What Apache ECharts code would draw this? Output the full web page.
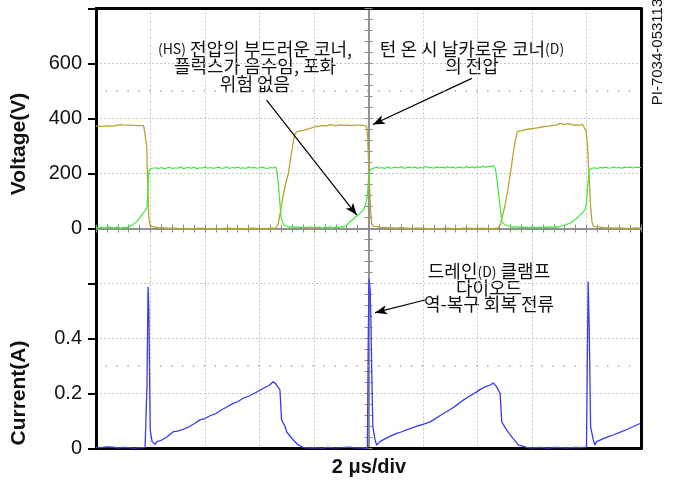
<!DOCTYPE html>
<html>
<head>
<meta charset="utf-8">
<script src="https://cdn.jsdelivr.net/npm/echarts@6/dist/echarts.min.js"></script>
<style>
  html, body { margin: 0; padding: 0; background: #fff; }
  #chart { width: 675px; height: 480px; }
</style>
</head>
<body>
<div id="chart"></div>
<script>
// Oscilloscope capture: 2 us/div, 10 divisions. Time in us.
const timeRange = [0, 20];
const voltRange = [0, 800];
const currRange = [0, 0.8];
const voltLabels = ['0', '200', '400', '600'];
const currLabels = ['0', '0.2', '0.4'];

// Drain voltage (V) — olive trace
const drainVolt = [
  [0,372],[0.2,371],[0.4,373],[0.6,372],[0.8,376],[0.9,378],[1.0,377],[1.2,376],[1.4,375],[1.6,374],
  [1.75,374],[1.8,368],[1.86,300],[1.9,150],[1.94,40],[1.98,12],[2.1,6],[2.3,3],[2.5,2],[2.7,0],
  [2.9,1],[3.1,-1],[3.3,0],[3.5,-2],[3.7,0],[3.9,1],[4.1,-1],[4.3,0],[4.5,-2],[4.7,0],[4.9,1],
  [5.1,-1],[5.3,0],[5.5,-1],[5.7,1],[5.9,0],[6.1,-1],[6.3,0],[6.5,1],[6.6,1],
  [6.68,15],[6.75,50],[6.85,110],[6.95,160],[7.06,200],[7.15,260],[7.25,320],[7.3,345],[7.38,352],
  [7.5,355],[7.65,358],[7.8,362],[8.04,370],[8.2,372],[8.3,374],[8.45,373],[8.59,378],[8.7,376],
  [8.8,374],[9.0,377],[9.1,375],[9.2,376],[9.4,374],[9.5,376],[9.57,378],[9.7,376],[9.8,375],
  [9.93,372],[9.97,330],[10.0,250],[10.04,150],[10.08,60],[10.12,15],[10.2,8],[10.4,5],[10.7,3],
  [10.9,2],[11.0,1],[11.2,3],[11.5,0],[11.8,1],[12,1],[12.2,-1],[12.5,-1],[12.8,1],[13,0],[13.2,-1],
  [13.5,1],[13.8,0],[14,0],[14.2,1],[14.5,-1],[14.75,1],[14.85,15],[14.9,40],[15.0,80],
  [15.13,150],[15.25,230],[15.35,300],[15.44,345],[15.5,354],[15.65,357],[15.8,360],[16.05,364],
  [16.2,366],[16.4,370],[16.6,372],[16.78,375],[16.9,376],[17.03,382],[17.1,379],[17.2,378],
  [17.3,381],[17.4,380],[17.5,376],[17.6,377],[17.76,376],[17.85,379],[17.9,372],[17.98,355],
  [18.04,300],[18.1,180],[18.15,80],[18.2,25],[18.25,8],[18.4,6],[18.5,5],[18.7,2],[18.8,3],
  [19.0,1],[19.2,2],[19.4,0],[19.6,0],[19.8,2],[20,1]
];

// Clamp node voltage (V) — green trace
const clampVolt = [
  [0,4],[0.1,2],[0.2,5],[0.3,1],[0.4,4],[0.5,6],[0.6,2],[0.7,3],[0.8,5],[0.9,1],[1.0,4],[1.1,3],
  [1.2,6],[1.3,10],[1.4,17],[1.5,26],[1.6,38],[1.7,52],[1.8,65],[1.87,75],[1.9,140],[1.94,206],
  [1.98,215],[2.06,219],[2.1,216],[2.2,221],[2.3,218],[2.4,222],[2.5,217],[2.6,220],[2.7,223],
  [2.8,218],[2.9,221],[3.0,219],[3.1,224],[3.2,218],[3.3,220],[3.4,222],[3.5,219],[3.6,223],
  [3.7,217],[3.8,221],[3.9,220],[4.0,224],[4.1,219],[4.2,222],[4.3,218],[4.4,221],[4.5,223],
  [4.6,219],[4.7,220],[4.8,225],[4.9,218],[5.0,222],[5.1,220],[5.2,223],[5.3,219],[5.4,221],
  [5.5,218],[5.6,224],[5.7,220],[5.8,222],[5.9,219],[6.0,221],[6.1,223],[6.2,220],[6.3,218],
  [6.4,222],[6.5,220],[6.6,223],[6.65,200],[6.7,152],[6.75,90],[6.8,35],[6.9,12],[7.0,8],[7.1,5],
  [7.2,7],[7.3,3],[7.4,6],[7.5,4],[7.6,2],[7.7,5],[7.8,3],[7.9,6],[8.0,2],[8.1,4],[8.2,5],[8.3,1],
  [8.4,4],[8.5,3],[8.6,6],[8.7,2],[8.8,5],[8.9,4],[9.0,7],[9.1,6],[9.2,12],[9.32,25],[9.4,30],
  [9.5,40],[9.6,47],[9.69,56],[9.8,66],[9.87,79],[9.96,116],[10.0,180],[10.03,205],[10.08,215],
  [10.2,220],[10.3,223],[10.4,219],[10.5,222],[10.6,218],[10.7,224],[10.8,219],[10.9,221],
  [11.0,223],[11.1,220],[11.2,225],[11.3,219],[11.4,221],[11.5,223],[11.6,220],[11.7,224],
  [11.8,219],[11.9,222],[12.0,220],[12.1,226],[12.2,221],[12.3,222],[12.4,219],[12.5,224],
  [12.6,221],[12.7,223],[12.8,220],[12.9,225],[13.0,221],[13.1,223],[13.2,219],[13.3,224],
  [13.4,222],[13.5,220],[13.6,225],[13.7,221],[13.8,223],[13.9,220],[14.0,224],[14.1,222],
  [14.2,226],[14.3,223],[14.4,225],[14.5,227],[14.6,228],[14.66,215],[14.7,188],[14.8,104],
  [14.89,25],[15.01,13],[15.1,10],[15.2,8],[15.3,5],[15.4,7],[15.5,4],[15.6,6],[15.7,3],[15.8,5],
  [15.9,2],[16.0,6],[16.1,4],[16.2,3],[16.3,6],[16.4,2],[16.5,5],[16.6,4],[16.7,6],[16.8,3],
  [16.9,7],[17.0,6],[17.1,9],[17.2,12],[17.3,16],[17.39,19],[17.5,26],[17.55,30],[17.7,43],
  [17.85,57],[17.94,67],[18.0,90],[18.04,152],[18.1,213],[18.19,219],[18.3,221],[18.4,218],
  [18.5,222],[18.6,220],[18.7,223],[18.8,219],[18.9,221],[19.0,224],[19.1,220],[19.2,222],
  [19.3,219],[19.4,223],[19.5,221],[19.6,224],[19.7,220],[19.8,222],[19.9,223],[20.0,221]
];

// Clamp diode current (A) — blue trace
const diodeCurr = [
  [0,0.004],[0.2,0.003],[0.4,0.006],[0.6,0.005],[0.8,0.002],[1.0,0.004],[1.2,0.003],[1.4,0.001],
  [1.6,0.003],[1.8,0.003],[1.85,0.005],[1.87,0.225],[1.91,0.588],[1.94,0.504],[1.96,0.32],
  [1.99,0.067],[2.06,0.025],[2.17,0.015],[2.23,0.025],[2.4,0.03],[2.6,0.042],[2.84,0.061],
  [3.0,0.063],[3.2,0.07],[3.4,0.078],[3.6,0.09],[3.82,0.104],[4.0,0.109],[4.2,0.12],[4.4,0.127],
  [4.6,0.14],[4.8,0.151],[5.03,0.164],[5.2,0.17],[5.4,0.183],[5.6,0.19],[5.8,0.2],[6.0,0.211],
  [6.2,0.222],[6.35,0.229],[6.5,0.243],[6.6,0.235],[6.75,0.213],[6.81,0.104],[6.94,0.08],
  [7.0,0.06],[7.24,0.031],[7.42,0.013],[7.6,0.004],[7.8,0.002],[8.0,0.003],[8.3,0.001],[8.5,0.004],
  [8.8,0.002],[9.0,0.003],[9.3,0.005],[9.5,0.002],[9.8,0.003],[9.96,0.0],[9.99,0.393],[10.02,0.617],
  [10.06,0.575],[10.09,0.455],[10.12,0.273],[10.16,0.079],[10.24,0.031],[10.3,0.013],[10.42,0.025],
  [10.6,0.035],[10.8,0.045],[11.03,0.055],[11.2,0.06],[11.4,0.068],[11.6,0.075],[11.8,0.082],
  [12.0,0.088],[12.26,0.097],[12.4,0.105],[12.6,0.118],[12.8,0.13],[13.0,0.142],[13.2,0.155],
  [13.48,0.176],[13.7,0.19],[13.97,0.206],[14.1,0.215],[14.3,0.225],[14.45,0.23],[14.58,0.238],
  [14.7,0.225],[14.83,0.2],[14.89,0.097],[15.07,0.067],[15.31,0.036],[15.5,0.013],[15.8,0.004],
  [16.0,0.002],[16.3,0.004],[16.6,0.001],[16.8,0.004],[17.1,0.003],[17.3,0.002],[17.6,0.004],
  [17.8,0.003],[18.0,0.005],[18.06,0.607],[18.1,0.437],[18.15,0.079],[18.25,0.031],[18.31,0.013],
  [18.37,0.025],[18.6,0.035],[18.8,0.043],[19.0,0.05],[19.2,0.058],[19.5,0.07],[19.7,0.079],[19.96,0.091]
];

// Reference levels drawn as sparse dotted lines
const voltRef = 500;
const currRef = 0.3;

// Annotation arrows: [tail, head] in data units
const arrowSoftCorner = [[6.26, 467], [9.57, 49]];
const arrowSharpCorner = [[13.79, 546], [10.16, 378]];
const arrowRecovery = [[12.07, 0.54], [10.24, 0.494]];

const FONT = '"Liberation Sans", Arial, Helvetica, sans-serif';
const KFONT = '"Noto Sans CJK KR", "Noto Sans", sans-serif';
const GRID_GRAY = '#c6c6c6';
const CENTER_GRAY = '#8c8c8c';
const FRAME = '#000';

const chart = echarts.init(document.getElementById('chart'), null, { renderer: 'canvas' });

const gridLine = { show: true, lineStyle: { color: GRID_GRAY, width: 1, type: [2, 2] } };
const blackLine = { show: true, onZero: false, lineStyle: { color: FRAME, width: 3 } };
const grayLine = { show: true, onZero: false, lineStyle: { color: CENTER_GRAY, width: 1.5 } };
const smallTick = { show: true, length: 4, lineStyle: { color: CENTER_GRAY, width: 1 } };

function xAxisBase(gridIndex, position) {
  return {
    type: 'value', gridIndex, position, min: timeRange[0], max: timeRange[1], interval: 2,
    axisLabel: { show: false }, axisTick: { show: false }, splitLine: { show: false },
    axisLine: blackLine
  };
}
function centerY(gridIndex, position, range, step) {
  return {
    type: 'value', gridIndex, position, offset: -272.5, min: range[0], max: range[1], interval: step,
    axisLine: grayLine, axisTick: smallTick, axisLabel: { show: false }, splitLine: { show: false }
  };
}

const arrowStyle = { color: '#000', width: 1.2, type: 'solid' };
function arrowItem(a) {
  return [
    { coord: a[0], symbol: 'none', lineStyle: arrowStyle },
    { coord: a[1], symbol: 'arrow', symbolSize: [7, 12] }
  ];
}
function refItem(v) {
  return [
    { coord: [0.35, v], symbol: 'none', lineStyle: { color: '#a8a8a8', width: 1.5, type: [1.5, 9.4] } },
    { coord: [19.6, v], symbol: 'none' }
  ];
}

const minorTicks = { show: true, splitNumber: 5, length: 4, lineStyle: { color: CENTER_GRAY, width: 1 } };
const kText = (text, x, y, lh) => ({
  type: 'text', x, y,
  style: {
    text, font: '18px ' + KFONT, fill: '#111', textAlign: 'center', textVerticalAlign: 'top', lineHeight: lh,
    rich: { s: { font: '14px ' + KFONT, fill: '#111' } }
  }
});

const option = {
  animation: false,
  backgroundColor: '#fff',
  grid: [
    { left: 96, top: 8.5, width: 545, height: 220, outerBoundsMode: 'none' },
    { left: 96, top: 228.5, width: 545, height: 220, outerBoundsMode: 'none' }
  ],
  xAxis: [
    Object.assign(xAxisBase(0, 'bottom'), {
      axisLine: grayLine, axisTick: smallTick, minorTick: minorTicks, splitLine: gridLine
    }),
    xAxisBase(0, 'top'),
    Object.assign(xAxisBase(1, 'bottom'), { splitLine: gridLine }),
    Object.assign(xAxisBase(1, 'top'), {
      axisLine: grayLine, axisTick: smallTick, minorTick: minorTicks
    })
  ],
  yAxis: [
    {
      type: 'value', gridIndex: 0, position: 'left', min: voltRange[0], max: voltRange[1], interval: 200,
      axisLine: blackLine,
      axisTick: { show: true, length: 8, lineStyle: { color: FRAME, width: 2 } },
      axisLabel: {
        margin: 14, color: '#111', fontFamily: FONT, fontSize: 20,
        formatter: v => (voltLabels.indexOf(String(v)) >= 0 ? String(v) : '')
      },
      splitLine: gridLine
    },
    { type: 'value', gridIndex: 0, position: 'right', min: voltRange[0], max: voltRange[1],
      axisLine: blackLine, axisTick: { show: false }, axisLabel: { show: false }, splitLine: { show: false } },
    centerY(0, 'left', voltRange, 40),
    centerY(0, 'right', voltRange, 40),
    {
      type: 'value', gridIndex: 1, position: 'left', min: currRange[0], max: currRange[1], interval: 0.2,
      axisLine: blackLine,
      axisTick: { show: true, length: 8, lineStyle: { color: FRAME, width: 2 } },
      axisLabel: {
        margin: 14, color: '#111', fontFamily: FONT, fontSize: 20,
        formatter: v => {
          const s = String(Math.round(v * 10) / 10);
          return currLabels.indexOf(s) >= 0 ? s : '';
        }
      },
      splitLine: gridLine
    },
    { type: 'value', gridIndex: 1, position: 'right', min: currRange[0], max: currRange[1],
      axisLine: blackLine, axisTick: { show: false }, axisLabel: { show: false }, splitLine: { show: false } },
    centerY(1, 'left', currRange, 0.04),
    centerY(1, 'right', currRange, 0.04)
  ],
  series: [
    {
      name: 'Drain', type: 'line', xAxisIndex: 0, yAxisIndex: 0, data: drainVolt,
      showSymbol: false, clip: false, lineStyle: { color: '#b5a531', width: 1.3 }, z: 3,
      markLine: {
        silent: true, animation: false, label: { show: false },
        data: [arrowItem(arrowSoftCorner), arrowItem(arrowSharpCorner), refItem(voltRef)]
      }
    },
    {
      name: 'Clamp', type: 'line', xAxisIndex: 0, yAxisIndex: 0, data: clampVolt,
      showSymbol: false, clip: false, lineStyle: { color: '#3ee83a', width: 1.2 }, z: 3
    },
    {
      name: 'Current', type: 'line', xAxisIndex: 2, yAxisIndex: 4, data: diodeCurr,
      showSymbol: false, clip: false, lineStyle: { color: '#3a3af5', width: 1.3 }, z: 3,
      markLine: {
        silent: true, animation: false, label: { show: false },
        data: [arrowItem(arrowRecovery), refItem(currRef)]
      }
    }
  ],
  graphic: [
    { type: 'text', x: 19, y: 144, rotation: Math.PI / 2,
      style: { text: 'Voltage(V)', font: 'bold 21px ' + FONT, fill: '#111', textAlign: 'center', textVerticalAlign: 'middle' } },
    { type: 'text', x: 19, y: 393, rotation: Math.PI / 2,
      style: { text: 'Current(A)', font: 'bold 21px ' + FONT, fill: '#111', textAlign: 'center', textVerticalAlign: 'middle' } },
    { type: 'text', x: 369, y: 467,
      style: { text: '2 \u03bcs/div', font: 'bold 20px ' + FONT, fill: '#111', textAlign: 'center', textVerticalAlign: 'middle' } },
    { type: 'text', x: 658, y: 52, rotation: Math.PI / 2,
      style: { text: 'PI-7034-053113', font: '15px ' + FONT, fill: '#111', textAlign: 'center', textVerticalAlign: 'middle' } },
    kText('{s|(HS)} 전압의 부드러운 코너,\n플럭스가 음수임, 포화\n위험 없음', 255, 40, 17.5),
    kText('턴 온 시 날카로운 코너{s|(D)}\n의 전압', 472, 40, 17.5),
    kText('드레인{s|(D)} 클램프\n다이오드\n역-복구 회복 전류', 489, 263, 16.5)
  ]
};

chart.setOption(option);
</script>
</body>
</html>
